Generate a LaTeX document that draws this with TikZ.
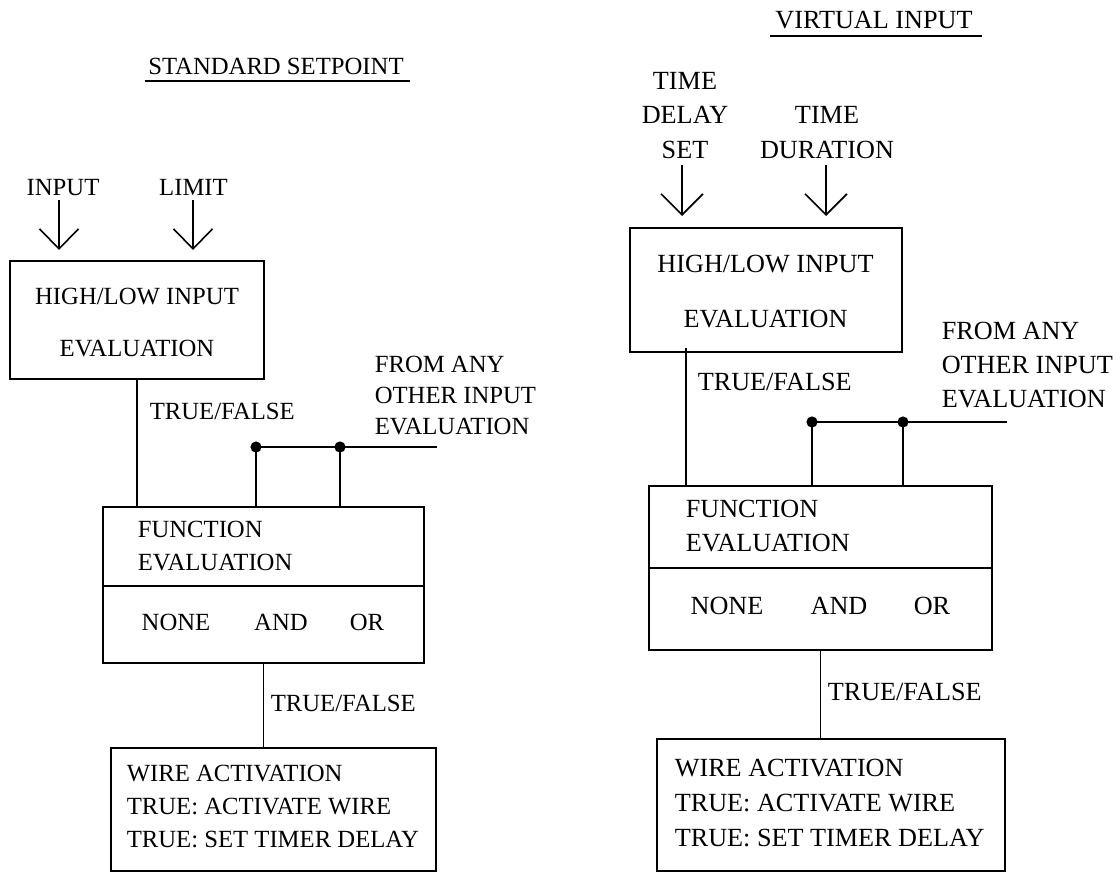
\documentclass[tikz,border=0pt]{standalone}
\usepackage{fontspec}
\setmainfont{Liberation Serif}
\usetikzlibrary{arrows.meta}
\newcommand\fntL[1]{\fontsize{12.35}{#1}\selectfont}
\newcommand\fntR[1]{\fontsize{13.1}{#1}\selectfont}
\begin{document}
\begin{tikzpicture}[x=0.5pt,y=-0.5pt,line width=0.8pt,
  box/.style={draw,inner sep=0pt,outer sep=0pt},
  lt/.style={inner sep=0pt,font=\fntL{15}},
  rt/.style={inner sep=0pt,font=\fntR{16}},
  arrL/.style={-{Straight Barb[length=10pt,width=19.5pt]}},
  arrR/.style={-{Straight Barb[length=10.5pt,width=21pt]}}]
\useasboundingbox (0,0) rectangle (1120,873);

% ---------------- left: STANDARD SETPOINT ----------------
\node[lt,anchor=base] (t1) at (276,74) {STANDARD SETPOINT};
\draw ([shift={(-3,7)}]t1.base west) -- ([shift={(6,7)}]t1.base east);

\node[lt,anchor=base] (inp) at (63,195) {INPUT};
\node[lt,anchor=base] (lim) at (193.5,195) {LIMIT};

\node[box,minimum width=127pt,minimum height=59pt] (hl1) at (137,320) {};
\node[inner sep=0pt,anchor=north,align=center,font=\fntL{26}] (hl1t) at (137,287) {HIGH/LOW INPUT\\EVALUATION};

\coordinate (a1) at (59,200);
\coordinate (a2) at (193,200);
\draw[arrL,shorten >=5.5pt] (a1) -- (a1 |- hl1.north);
\draw[arrL,shorten >=5.5pt] (a2) -- (a2 |- hl1.north);

\node[box,minimum width=160.5pt,minimum height=78pt] (fn1) at (263.5,585) {};
\coordinate (dv1) at (0,586);
\draw (fn1.west |- dv1) -- (fn1.east |- dv1);
\node[inner sep=0pt,anchor=north west,align=left,font=\fntL{16.5}] (fn1t) at (137,520) {FUNCTION\\EVALUATION};
\node[lt,anchor=base] (none1) at (176,630) {NONE};
\node[lt,anchor=base] (and1) at (281,630) {AND};
\node[lt,anchor=base] (or1) at (367,630) {OR};

\draw (hl1.south) -- (hl1.south |- fn1.north);
\node[lt,anchor=base west] (tf1) at (149,419) {TRUE/FALSE};

\node[inner sep=0pt,anchor=north west,align=left,font=\fntL{15.5}] (oth1) at (374,355) {FROM ANY\\OTHER INPUT\\EVALUATION};
\coordinate (j1a) at (256,447);
\coordinate (j1b) at (340,447);
\coordinate (j1e) at (437,447);
\draw (j1a) -- (j1e);
\draw (j1a) -- (j1a |- fn1.north);
\draw (j1b) -- (j1b |- fn1.north);
\fill (j1a) circle (2.8pt);
\fill (j1b) circle (2.8pt);

\node[box,minimum width=162.5pt,minimum height=61.5pt] (wa1) at (273.5,809.5) {};
\draw (fn1.south) -- (fn1.south |- wa1.north);
\node[lt,anchor=base west] (tf2) at (270,711) {TRUE/FALSE};
\node[inner sep=0pt,anchor=north west,align=left,font=\fntL{16.5}] (wa1t) at (126,764) {WIRE ACTIVATION\\TRUE: ACTIVATE WIRE\\TRUE: SET TIMER DELAY};

% ---------------- right: VIRTUAL INPUT ----------------
\node[rt,anchor=base] (t2) at (874,28.6) {VIRTUAL INPUT};
\draw ([shift={(-5,7.4)}]t2.base west) -- ([shift={(9,7.4)}]t2.base east);

\node[inner sep=0pt,anchor=north,align=center,font=\fntR{17.25}] (tds) at (685,71.4) {TIME\\DELAY\\SET};
\node[inner sep=0pt,anchor=north,align=center,font=\fntR{17.5}] (tdu) at (827,105.4) {TIME\\DURATION};

\node[box,minimum width=136pt,minimum height=62pt] (hl2) at (766,290) {};
\node[inner sep=0pt,anchor=north,align=center,font=\fntR{27.5}] (hl2t) at (765.5,254.4) {HIGH/LOW INPUT\\EVALUATION};

\coordinate (b1) at (682,165);
\coordinate (b2) at (826,165);
\draw[arrR,shorten >=6pt] (b1) -- (b1 |- hl2.north);
\draw[arrR,shorten >=6pt] (b2) -- (b2 |- hl2.north);

\node[box,minimum width=171.5pt,minimum height=82pt] (fn2) at (820.5,568) {};
\coordinate (dv2) at (0,568);
\draw (fn2.west |- dv2) -- (fn2.east |- dv2);
\node[inner sep=0pt,anchor=north west,align=left,font=\fntR{17}] (fn2t) at (685,499.4) {FUNCTION\\EVALUATION};
\node[rt,anchor=base] (none2) at (727,614.6) {NONE};
\node[rt,anchor=base] (and2) at (839,614.6) {AND};
\node[rt,anchor=base] (or2) at (932,614.6) {OR};

\coordinate (h2) at (686,348);
\draw (h2) -- (h2 |- fn2.north);
\node[rt,anchor=base west] (tf3) at (697,390.6) {TRUE/FALSE};

\node[inner sep=0pt,anchor=north west,align=left,font=\fntR{17}] (oth2) at (941,321.4) {FROM ANY\\OTHER INPUT\\EVALUATION};
\coordinate (j2a) at (812,422);
\coordinate (j2b) at (903,422);
\coordinate (j2e) at (1007,422);
\draw (j2a) -- (j2e);
\draw (j2a) -- (j2a |- fn2.north);
\draw (j2b) -- (j2b |- fn2.north);
\fill (j2a) circle (2.8pt);
\fill (j2b) circle (2.8pt);

\node[box,minimum width=174pt,minimum height=66pt] (wa2) at (831,805) {};
\draw (fn2.south) -- (fn2.south |- wa2.north);
\node[rt,anchor=base west] (tf4) at (827,700.6) {TRUE/FALSE};
\node[inner sep=0pt,anchor=north west,align=left,font=\fntR{17.5}] (wa2t) at (674,758.4) {WIRE ACTIVATION\\TRUE: ACTIVATE WIRE\\TRUE: SET TIMER DELAY};
\end{tikzpicture}
\end{document}
